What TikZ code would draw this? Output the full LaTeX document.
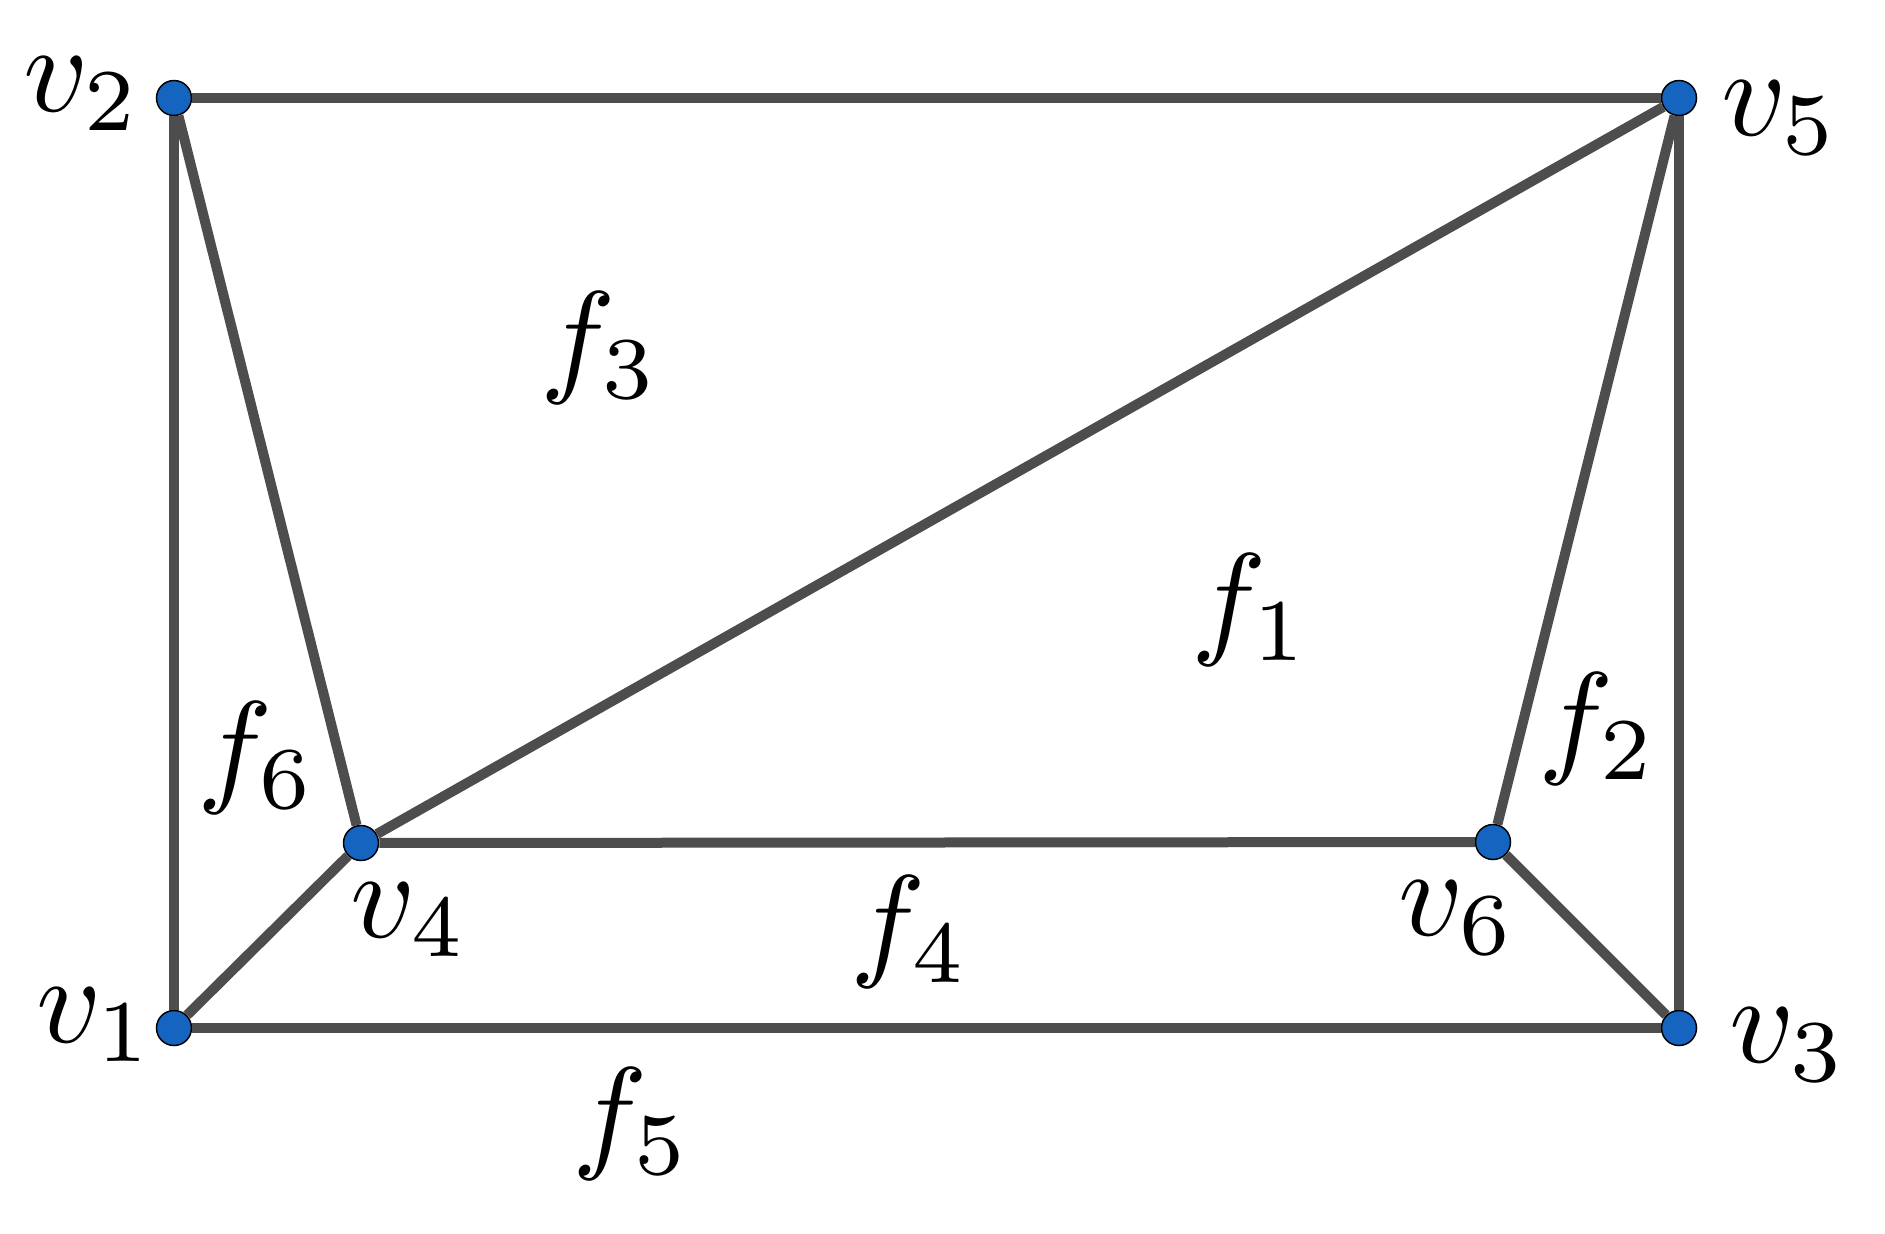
\documentclass[tikz,border=0pt]{standalone}
\usepackage{amsmath}
\usepackage{tikz}
\definecolor{edgegray}{RGB}{77,77,77}
\definecolor{vertblue}{RGB}{21,101,192}

\begin{document}
\begin{tikzpicture}[x=0.5pt,y=0.5pt,yscale=-1,xscale=1,
  vertex/.style={circle,fill=vertblue,draw=black,line width=0.75pt,minimum size=17.5pt,inner sep=0pt},
  edge/.style={draw=edgegray,line width=5pt},
  lbl/.style={inner sep=0pt,scale=6.3}]
\useasboundingbox (0,0) rectangle (1885,1233);

%Shape: Circle (vertices)
\node [vertex] (v1) at (174,1028) {};
\node [vertex] (v2) at (174,98) {};
\node [vertex] (v3) at (1679,1028) {};
\node [vertex] (v4) at (361,843) {};
\node [vertex] (v5) at (1679,98) {};
\node [vertex] (v6) at (1493,842) {};

%Straight Lines (edges)
\draw [edge] (v1) -- (v2) ;
\draw [edge] (v2) -- (v5) ;
\draw [edge] (v5) -- (v3) ;
\draw [edge] (v3) -- (v1) ;
\draw [edge] (v2) -- (v4) ;
\draw [edge] (v4) -- (v5) ;
\draw [edge] (v4) -- (v6) ;
\draw [edge] (v6) -- (v5) ;
\draw [edge] (v1) -- (v4) ;
\draw [edge] (v6) -- (v3) ;

% Text Node
\node [lbl] (lv1) at (95,1025) {$v_1$};
% Text Node
\node [lbl] (lv2) at (82,94) {$v_2$};
% Text Node
\node [lbl] (lv3) at (1788,1045) {$v_3$};
% Text Node
\node [lbl] (lv4) at (409,920) {$v_4$};
% Text Node
\node [lbl] (lv5) at (1780,118) {$v_5$};
% Text Node
\node [lbl] (lv6) at (1457,918) {$v_6$};

% Text Node
\node [lbl] (f1) at (1251,610) {$f_1$};
% Text Node
\node [lbl] (f2) at (1598,729) {$f_2$};
% Text Node
\node [lbl] (f3) at (600,348) {$f_3$};
% Text Node
\node [lbl] (f4) at (910,932) {$f_4$};
% Text Node
\node [lbl] (f5) at (632,1124) {$f_5$};
% Text Node
\node [lbl] (f6) at (257,758) {$f_6$};

\end{tikzpicture}
\end{document}
